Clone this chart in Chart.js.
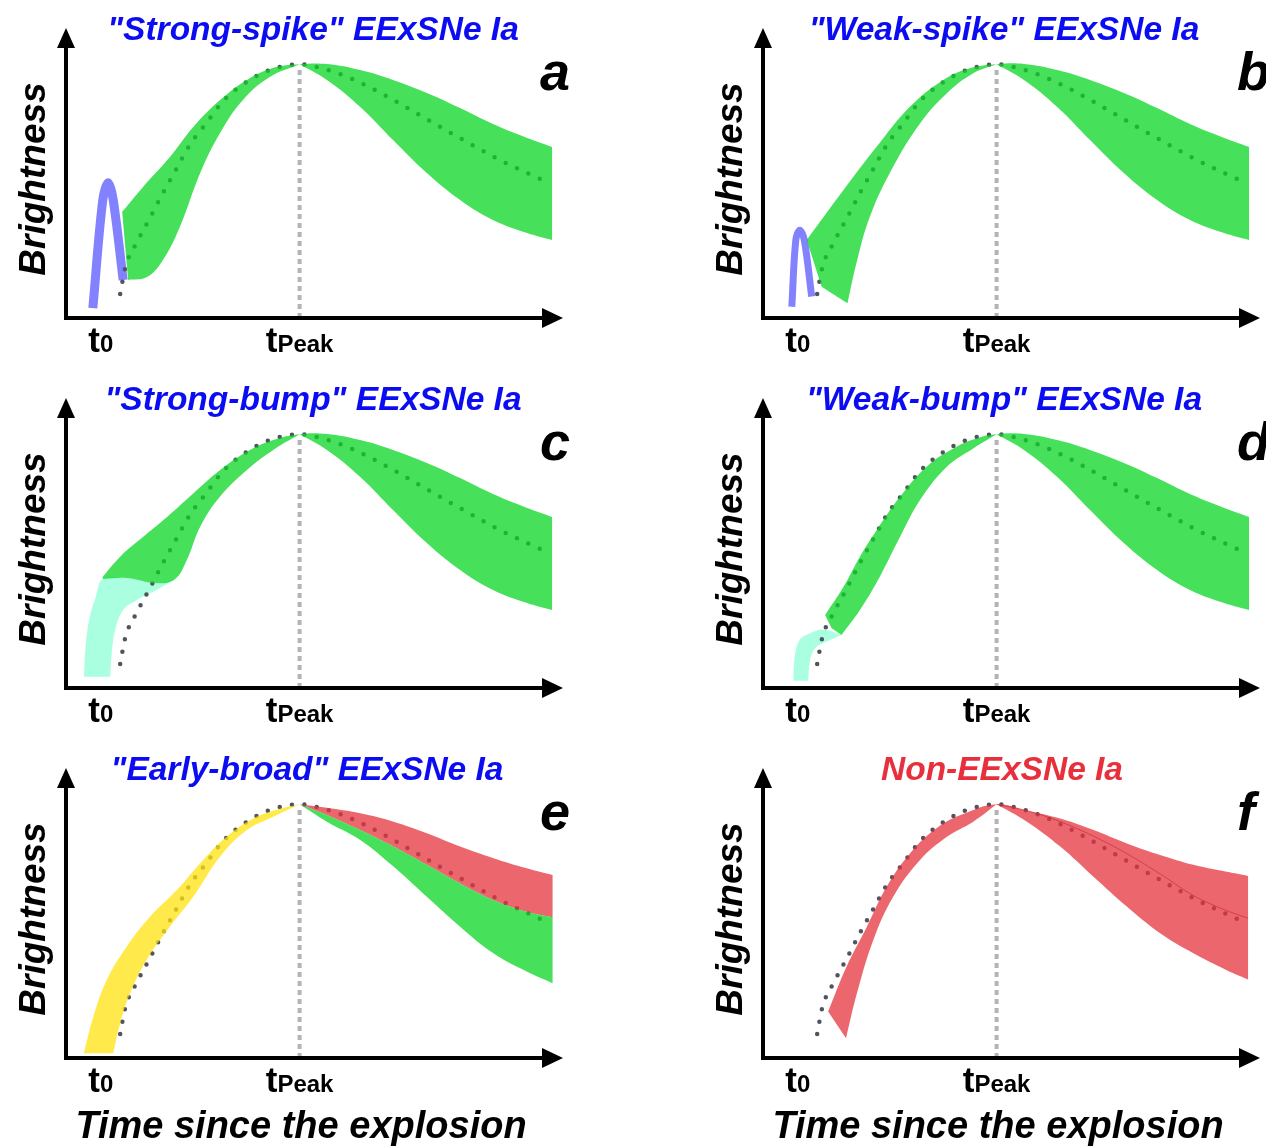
<!DOCTYPE html>
<html>
<head>
<meta charset="utf-8">
<script src="https://cdn.jsdelivr.net/npm/chart.js@4.4.1/dist/chart.umd.min.js"></script>
<style>
  html, body { margin: 0; padding: 0; background: #fff; }
  body { width: 1266px; height: 1146px; position: relative; overflow: hidden; }
  canvas { position: absolute; }
</style>
</head>
<body>
<canvas id="panel-a" width="600" height="370" style="left:0px;top:0px"></canvas>
<canvas id="panel-b" width="600" height="370" style="left:697px;top:0px"></canvas>
<canvas id="panel-c" width="600" height="370" style="left:0px;top:370px"></canvas>
<canvas id="panel-d" width="600" height="370" style="left:697px;top:370px"></canvas>
<canvas id="panel-e" width="600" height="406" style="left:0px;top:740px"></canvas>
<canvas id="panel-f" width="600" height="406" style="left:697px;top:740px"></canvas>
<script>
// Time axis landmarks (arbitrary units, 0-100)
const tZero = 7;
const tPeak = 47;
const peakBrightness = 87.5;
const PEAK = [tPeak, peakBrightness];

const tickValues = [tZero, tPeak];
const tickMain = ['t', 't'];
const tickSub = ['0', 'Peak'];

const panelTitles = [
  '"Strong-spike" EExSNe Ia', '"Weak-spike" EExSNe Ia',
  '"Strong-bump" EExSNe Ia', '"Weak-bump" EExSNe Ia',
  '"Early-broad" EExSNe Ia', 'Non-EExSNe Ia'
];
const panelLetters = ['a', 'b', 'c', 'd', 'e', 'f'];
const yLabel = 'Brightness';
const xLabel = 'Time since the explosion';

// Normal SN Ia light curve (dotted), same in every panel
const normalTemplate = [
  [10.9, 8.3], [11.9, 17.2], [14.3, 26.2], [16.9, 34.5], [19.5, 43.1], [22.3, 51.7],
  [24.9, 59.7], [28.4, 67.6], [31.6, 74.8], [36.0, 81.0], [41.0, 85.5], [47, 87.5],
  [51.7, 86.0], [57.1, 82.8], [62.2, 78.6], [67.0, 74.1], [71.8, 69.3], [76.7, 64.5],
  [81.7, 59.7], [86.5, 55.2], [91.5, 51.0], [96.8, 46.9]
];

// Post-peak green band shared by panels a-d
const postUpper = [[52.5, 87.6], [59.2, 85.5], [65.8, 82.1], [72.6, 77.6], [79.3, 72.4], [85.9, 66.9], [92.8, 62.1], [97.8, 59.0]];
const postLower = [[52.5, 82.1], [59.2, 72.8], [65.8, 61.4], [72.6, 50.0], [79.3, 40.7], [85.9, 33.8], [92.8, 29.3], [97.8, 26.9]];

// a: strong spike
const preUpperA = [[11.3, 36.6], [15.5, 45.2], [20.9, 55.5], [25.6, 65.9], [31.0, 75.2], [36.4, 82.1], [41.6, 86.2]];
const preLowerA = [[12.5, 13.1], [16.3, 14.1], [19.5, 20.0], [22.9, 31.4], [27.0, 50.0], [31.0, 63.8], [35.6, 75.2], [41.0, 83.1]];
const spikeA = [[5.4, 3.4], [7.4, 40.7], [8.5, 46.6], [9.5, 40.7], [11.5, 13.1]];

// b: weak spike
const preUpperB = [[8.8, 26.9], [16.2, 44.1], [22.9, 59.1], [29.6, 72.9], [36.3, 82.1], [41.6, 86.1]];
const preLowerB = [[17.0, 5.1], [18.8, 18.9], [21.5, 34.9], [26.2, 52.2], [31.6, 67.1], [37.0, 77.5], [42.3, 84.4]];
const footB = [[11.8, 10.8]];
const spikeB = [[5.8, 3.9], [6.6, 26.9], [7.4, 30.3], [8.3, 26.9], [9.8, 7.4]];

// c: strong bump
const bumpEdgeC = [[7.4, 37.6], [12.2, 37.9], [18.2, 36.1], [21.9, 37.5]];
const preUpperC = [[7.4, 38.4], [10.9, 45.3], [15.6, 52.2], [19.6, 57.9], [25.6, 67.1], [31.0, 75.2], [36.4, 81.5], [41.7, 85.5]];
const preLowerC = bumpEdgeC.concat([[24.3, 44.1], [27.0, 55.6], [31.0, 66.0], [36.4, 75.2], [41.7, 82.1]]);
const cyanUpperC = [[3.6, 3.9], [4.0, 15.4], [4.8, 24.6], [6.0, 31.5]].concat(bumpEdgeC);
const cyanLowerC = [[8.9, 3.9], [9.2, 12.0], [9.9, 20.0], [11.5, 26.9], [14.2, 30.3], [18.2, 33.8], [21.9, 37.5]];

// d: weak bump
const preUpperD = [[12.5, 25.2], [16.2, 34.9], [19.5, 45.3], [22.9, 54.5], [27.6, 66.0], [32.9, 76.3], [38.3, 82.6], [43.0, 86.1]];
const preLowerD = [[15.8, 18.3], [19.5, 26.9], [23.5, 38.4], [27.6, 52.2], [31.6, 64.8], [37.0, 76.3], [42.3, 82.6]];
const footD = [[13.8, 20.6]];
const cyanUpperD = [[6.1, 2.5], [6.4, 10.8], [7.4, 16.6], [9.5, 18.9], [12.1, 20.2], [15.8, 18.3]];
const cyanLowerD = [[9.1, 2.5], [9.5, 9.7], [10.5, 13.7], [12.8, 16.0], [15.8, 18.3]];

// e: early broad
const yellowUpperE = [[3.6, 1.6], [5.5, 14.2], [8.2, 26.9], [12.2, 38.4], [16.9, 48.7], [22.3, 57.9], [27.6, 68.3], [32.3, 76.3], [37.7, 82.6], [42.4, 85.6], PEAK];
const yellowLowerE = [[9.5, 1.6], [10.9, 12.0], [12.9, 22.3], [16.2, 33.8], [20.9, 45.3], [25.6, 55.6], [31.0, 69.4], [36.4, 78.6], [41.7, 83.2], PEAK];
const greenUpperE = [PEAK, [52.5, 83.8], [59.2, 78.6], [65.9, 72.9], [72.6, 66.6], [79.3, 60.2], [86.0, 54.5], [92.7, 50.4], [97.9, 48.5]];
const greenLowerE = [PEAK, [52.5, 81.5], [59.2, 75.2], [65.9, 66.0], [72.6, 55.6], [79.3, 45.3], [86.0, 36.1], [92.7, 29.8], [97.9, 25.8]];
const redUpperE = [PEAK, [52.5, 86.3], [59.2, 84.4], [65.9, 81.5], [72.6, 77.5], [79.3, 72.9], [86.0, 68.9], [92.7, 65.4], [97.9, 63.1]];

// f: normal (non-EExSNe)
const preUpperF = [[13.1, 16.0], [16.8, 31.5], [20.9, 45.3], [24.9, 59.1], [29.6, 70.6], [34.9, 79.2], [40.3, 84.1]];
const preLowerF = [[16.7, 6.8], [18.9, 22.3], [22.2, 40.7], [26.2, 55.6], [31.6, 68.3], [37.0, 76.3], [42.3, 81.5]];
const postUpperF = [[53.1, 85.3], [59.8, 82.6], [66.5, 78.6], [73.2, 74.0], [79.9, 70.0], [86.6, 66.6], [93.3, 64.2], [97.6, 62.8]];
const postLowerF = [[53.1, 81.5], [59.8, 72.9], [66.5, 62.5], [73.2, 52.2], [79.9, 43.0], [86.6, 36.1], [93.3, 30.3], [97.6, 27.1]];
const medianF = [PEAK, [53.1, 85.3], [59.8, 81.5], [66.5, 76.5], [73.2, 70.5], [79.9, 63.5], [86.6, 56.0], [93.3, 50.8], [97.6, 48.2]];

// Colours (bands are drawn translucent over the dotted curve)
const GREEN = 'rgba(10, 214, 36, 0.75)';
const RED = 'rgba(230, 51, 62, 0.75)';
const YELLOW = 'rgba(255, 226, 15, 0.75)';
const CYAN = 'rgba(142, 255, 215, 0.75)';
const SPIKE = '#8282ff';
const DOTS = '#50545f';
const TITLE_BLUE = '#0c0cf2';
const TITLE_RED = '#e8303c';
const FONT = '"Liberation Sans", Arial, Helvetica, sans-serif';

const toPoints = arr => arr.map(([x, y]) => ({ x, y }));
const smoothJoin = (pre, post) => pre.concat([PEAK], post);
const kinkJoin = (pre, post) => pre.concat([PEAK, PEAK], post);

// Closed outline: upper edge left->right, down the right end, lower edge back,
// then the straight "foot" back to the start. Doubled points keep corners sharp.
function bandOutline(upper, lower, foot = []) {
  const pts = upper.slice();
  pts.push(upper[upper.length - 1]);
  const back = lower.slice().reverse();
  pts.push(back[0]);
  back.forEach(p => pts.push(p));
  pts.push(back[back.length - 1]);
  foot.forEach(p => { pts.push(p); pts.push(p); });
  return toPoints(pts);
}

function bandSet(outline, color) {
  return {
    data: outline, fill: 'shape', backgroundColor: color,
    borderColor: 'rgba(0,0,0,0)', borderWidth: 0, pointRadius: 0, tension: 0.4, order: 3
  };
}

function commonSets() {
  return [
    {
      data: toPoints([[tPeak, 0], [tPeak, peakBrightness - 1.5]]),
      borderColor: '#b4b4b4', borderWidth: 4, borderDash: [5, 4], pointRadius: 0, fill: false, order: 10
    },
    {
      data: toPoints(normalTemplate), borderColor: DOTS, borderWidth: 4.5, borderDash: [0, 12.5],
      borderCapStyle: 'round', pointRadius: 0, fill: false, tension: 0.4,
      cubicInterpolationMode: 'monotone', order: 6
    }
  ];
}

function spikeSet(points, width) {
  return {
    data: toPoints(points), borderColor: SPIKE, borderWidth: width, borderJoinStyle: 'round',
    pointRadius: 0, fill: false, tension: 0.35, order: 8
  };
}

const decorPlugin = {
  id: 'decor',
  afterDraw(chart, args, opts) {
    const ctx = chart.ctx;
    const { left, right, top, bottom } = chart.chartArea;
    const xScale = chart.scales.x;
    ctx.save();

    // axes with arrow heads
    ctx.strokeStyle = '#000';
    ctx.fillStyle = '#000';
    ctx.lineWidth = 4;
    ctx.beginPath();
    ctx.moveTo(left, bottom + 2);
    ctx.lineTo(left, top + 18);
    ctx.moveTo(left - 2, bottom);
    ctx.lineTo(right - 18, bottom);
    ctx.stroke();
    ctx.beginPath();
    ctx.moveTo(left, top);
    ctx.lineTo(left - 9, top + 20);
    ctx.lineTo(left + 9, top + 20);
    ctx.closePath();
    ctx.moveTo(right, bottom);
    ctx.lineTo(right - 21, bottom - 10);
    ctx.lineTo(right - 21, bottom + 10);
    ctx.closePath();
    ctx.fill();

    // tick labels t0, tPeak
    ctx.textBaseline = 'alphabetic';
    ctx.textAlign = 'left';
    tickValues.forEach((v, i) => {
      const xc = xScale.getPixelForValue(v);
      ctx.font = 'bold 35px ' + FONT;
      const w1 = ctx.measureText(tickMain[i]).width;
      ctx.font = 'bold 24px ' + FONT;
      const w2 = ctx.measureText(tickSub[i]).width;
      const x0 = xc - (w1 + w2) / 2;
      ctx.font = 'bold 35px ' + FONT;
      ctx.fillText(tickMain[i], x0, bottom + 34);
      ctx.font = 'bold 24px ' + FONT;
      ctx.fillText(tickSub[i], x0 + w1, bottom + 34);
    });

    // y label
    ctx.save();
    ctx.translate(left - 33, bottom - 139);
    ctx.rotate(-Math.PI / 2);
    ctx.textAlign = 'center';
    ctx.font = 'italic bold 37px ' + FONT;
    ctx.fillText(yLabel, 0, 12);
    ctx.restore();

    // title
    ctx.textAlign = 'center';
    ctx.font = 'italic bold 33.5px ' + FONT;
    ctx.fillStyle = opts.titleColor;
    ctx.fillText(opts.title, left + opts.titleShift, top + 12);

    // panel letter
    ctx.fillStyle = '#000';
    ctx.textAlign = 'left';
    ctx.font = 'italic bold 54px ' + FONT;
    ctx.fillText(opts.letter, left + 474, top + 62);

    // x label on the bottom row
    if (opts.showXLabel) {
      ctx.textAlign = 'center';
      ctx.font = 'italic bold 38px ' + FONT;
      ctx.fillText(xLabel, left + 235, bottom + 80);
    }
    ctx.restore();
  }
};

const panels = [
  {
    id: 'panel-a', title: panelTitles[0], color: TITLE_BLUE, letter: panelLetters[0], shift: 247,
    sets: [
      spikeSet(spikeA, 9),
      bandSet(bandOutline(smoothJoin(preUpperA, postUpper), kinkJoin(preLowerA, postLower)), GREEN)
    ]
  },
  {
    id: 'panel-b', title: panelTitles[1], color: TITLE_BLUE, letter: panelLetters[1], shift: 241,
    sets: [
      spikeSet(spikeB, 7),
      bandSet(bandOutline(smoothJoin(preUpperB, postUpper), kinkJoin(preLowerB, postLower), footB), GREEN)
    ]
  },
  {
    id: 'panel-c', title: panelTitles[2], color: TITLE_BLUE, letter: panelLetters[2], shift: 247,
    sets: [
      Object.assign(bandSet(bandOutline(cyanUpperC, cyanLowerC), CYAN), { order: 7 }),
      bandSet(bandOutline(smoothJoin(preUpperC, postUpper), kinkJoin(preLowerC, postLower)), GREEN)
    ]
  },
  {
    id: 'panel-d', title: panelTitles[3], color: TITLE_BLUE, letter: panelLetters[3], shift: 241,
    sets: [
      Object.assign(bandSet(bandOutline(cyanUpperD, cyanLowerD), CYAN), { order: 7 }),
      bandSet(bandOutline(smoothJoin(preUpperD, postUpper), kinkJoin(preLowerD, postLower), footD), GREEN)
    ]
  },
  {
    id: 'panel-e', title: panelTitles[4], color: TITLE_BLUE, letter: panelLetters[4], shift: 241, xlab: true,
    sets: [
      bandSet(bandOutline(yellowUpperE, yellowLowerE), YELLOW),
      bandSet(bandOutline(greenUpperE, greenLowerE), GREEN),
      bandSet(bandOutline(redUpperE, greenUpperE), RED)
    ]
  },
  {
    id: 'panel-f', title: panelTitles[5], color: TITLE_RED, letter: panelLetters[5], shift: 239, xlab: true,
    sets: [
      bandSet(bandOutline(smoothJoin(preUpperF, postUpperF), kinkJoin(preLowerF, postLowerF)), RED),
      {
        data: toPoints(medianF), borderColor: 'rgba(200, 35, 50, 0.6)', borderWidth: 1,
        pointRadius: 0, fill: false, tension: 0.4, cubicInterpolationMode: 'monotone', order: 1
      }
    ]
  }
];

panels.forEach(p => {
  const canvas = document.getElementById(p.id);
  const bottomPad = canvas.height - 318;
  new Chart(canvas.getContext('2d'), {
    type: 'line',
    data: { datasets: commonSets().concat(p.sets) },
    options: {
      responsive: false,
      animation: false,
      devicePixelRatio: 1,
      events: [],
      layout: { padding: { left: 66, right: 37, top: 28, bottom: bottomPad } },
      scales: {
        x: { type: 'linear', min: 0, max: 100, display: false },
        y: { type: 'linear', min: 0, max: 100, display: false }
      },
      plugins: {
        legend: { display: false },
        tooltip: { enabled: false },
        decor: { title: p.title, titleColor: p.color, titleShift: p.shift, letter: p.letter, showXLabel: !!p.xlab }
      }
    },
    plugins: [decorPlugin]
  });
});
</script>
</body>
</html>
